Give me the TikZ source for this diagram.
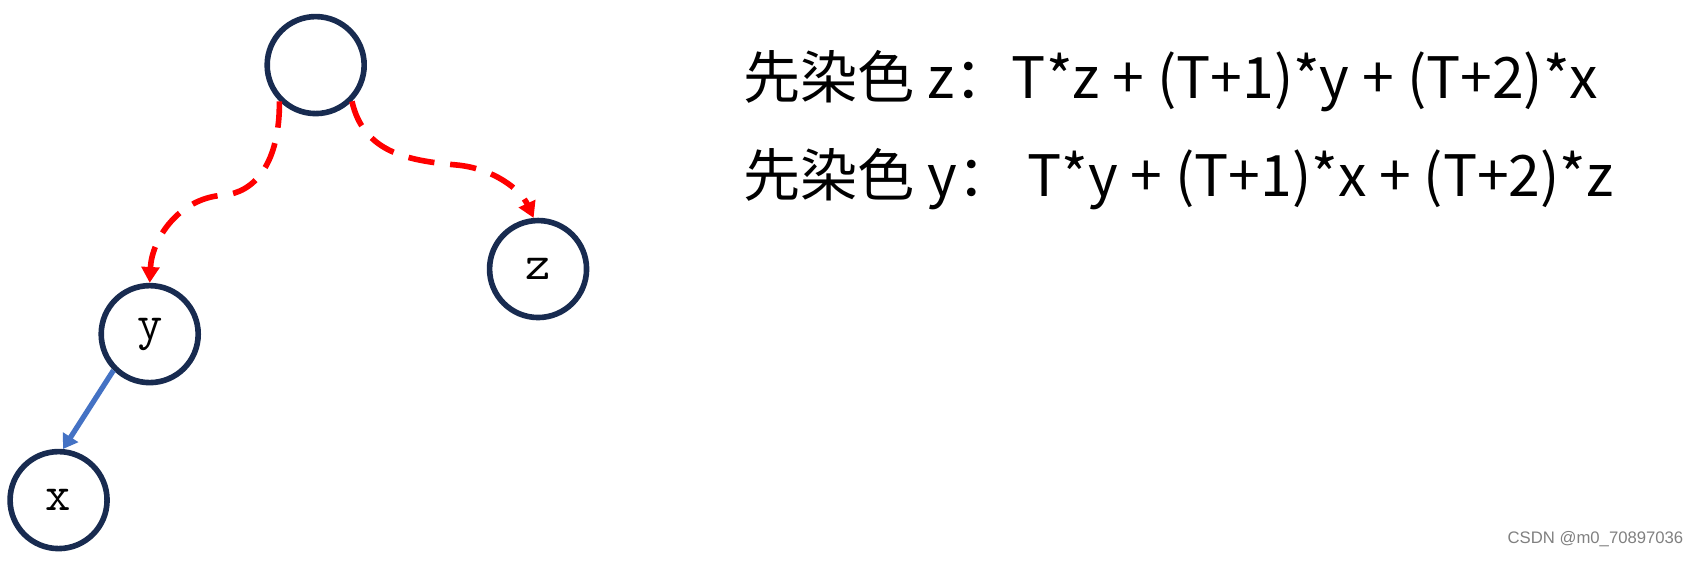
\documentclass[tikz,border=0pt]{standalone}
\usepackage{fontspec}
\usepackage{tikz}
\usetikzlibrary{arrows.meta}
\newfontfamily\cjkfont{Noto Sans CJK SC}
\newfontfamily\markfont{Liberation Sans}
\definecolor{ringblue}{RGB}{24,43,80}
\definecolor{edgeblue}{RGB}{68,114,196}

\begin{document}
\begin{tikzpicture}[x=0.021696cm,y=-0.021696cm,
    vertex/.style={circle,draw=ringblue,line width=3.2pt,minimum size=1.94cm,inner sep=0pt,font=\ttfamily\fontsize{28}{28}\selectfont},
    redarrow/.style={red,line width=3.2pt,dash pattern=on 15pt off 9pt,-{Triangle[length=9pt,width=10pt]}},
    formula/.style={anchor=west,inner sep=0pt,font=\cjkfont\fontsize{32.5}{33}\selectfont}]
          \useasboundingbox (0,0) rectangle (1568,517.1);
          \node[vertex] (root) at (291,60) {};
          \node[vertex] (z) at (496,248) {z};
          \node[vertex] (y) at (138,308) {y};
          \node[vertex] (x) at (54,461) {x};
          \draw[redarrow] (root.225) .. controls (258,150) and (235,178) .. (205,180)
                                  .. controls (165,183) and (140,220) .. (y.north);
          \draw[redarrow] (root.-45) .. controls (335,140) and (375,148) .. (420,152)
                                  .. controls (455,155) and (480,175) .. (z.95);
          \draw[edgeblue,line width=3pt,-{Triangle[length=8pt,width=10pt]}] (y.225) -- (x.85);
          \node[formula] (first) at (685,75) {先染色 z：T*z + (T+1)*y + (T+2)*x};
          \node[formula] (second) at (685,165) {先染色 y： T*y + (T+1)*x + (T+2)*z};
          \node[anchor=east,inner sep=0pt,gray,font=\markfont\fontsize{9.5}{10}\selectfont] (mark) at (1552,497) {CSDN @m0\_70897036};
        \end{tikzpicture}
\end{document}
